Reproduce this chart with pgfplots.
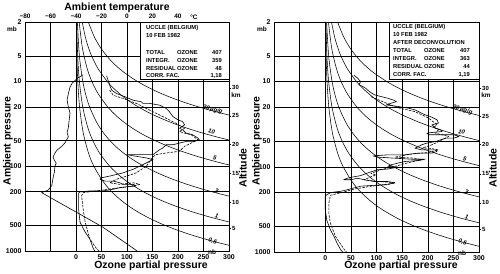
\documentclass[border=0pt]{standalone}
\usepackage{fontspec}
\setmainfont{Liberation Sans}
\usepackage{pgfplots}
\pgfplotsset{compat=1.18}
\tikzset{
  myMr/.style={black, line width=0.55pt, smooth, mark=none},
  myProf/.style={black, line width=0.6pt, line join=round, mark=none},
  myDprof/.style={black, line width=0.6pt, line join=round, mark=none, dash pattern=on 2.5pt off 1.2pt},
  myLab/.style={font=\fontsize{6}{6}\selectfont\bfseries\itshape, rotate=-15, inner sep=0.5pt},
}
\newcommand{\mixcurves}{%
  \addplot[myMr] coordinates {(24,2) (36,3) (48,4) (60,5) (72,6) (84,7) (96,8) (120,10) (144,12) (168,14) (192,16) (216,18) (240,20) (264,22) (300,25)};
  \addplot[myMr] coordinates {(12.2,2) (18.3,3) (24.4,4) (30.5,5) (42.7,7) (61,10) (73.2,12) (91.5,15) (109.8,18) (128.1,21) (152.5,25) (183,30) (213.5,35) (244,40) (274.5,45) (300,49.2)};
  \addplot[myMr] coordinates {(6.2,2) (12.4,4) (21.7,7) (31,10) (43.4,14) (62,20) (77.5,25) (93,30) (111.6,36) (130.2,42) (155,50) (186,60) (217,70) (248,80) (279,90) (300,96.8)};
  \addplot[myMr] coordinates {(2.66,2) (6.65,5) (13.3,10) (19.95,15) (26.6,20) (39.9,30) (53.2,40) (66.5,50) (79.8,60) (93.1,70) (113.05,85) (133,100) (159.6,120) (186.2,140) (212.8,160) (239.4,180) (266,200) (300,225.6)};
  \addplot[myMr] coordinates {(1.32,2) (3.3,5) (6.6,10) (13.2,20) (23.1,35) (33,50) (46.2,70) (66,100) (85.8,130) (105.6,160) (132,200) (158.4,240) (184.8,280) (217.8,330) (250.8,380) (277.2,420) (300,454.5)};
  \addplot[myMr] coordinates {(0.7,2) (1.75,5) (3.5,10) (7,20) (14,40) (24.5,70) (35,100) (52.5,150) (70,200) (91,260) (112,320) (140,400) (168,480) (196,560) (227.5,650) (262.5,750) (300,857)};
  \node[myLab] at (axis cs:268,21.5) {20\,µg/g};
  \node[myLab] at (axis cs:266,39) {10};
  \node[myLab] at (axis cs:272,80) {5};
  \node[myLab] at (axis cs:276,196) {2};
  \node[myLab] at (axis cs:276,390) {1};
  \node[myLab] at (axis cs:268,770) {0,5};
}
\begin{document}
\begin{tikzpicture}
\path[use as bounding box] (0,0) rectangle (500bp,274bp);
% ---------------- left panel ----------------
\begin{axis}[scale only axis, at={(25bp,23bp)}, anchor=south west, width=204bp, height=229bp,
  ymode=log, y dir=reverse, ymin=2, ymax=1000, xmin=-100, xmax=300,
  axis line style={line width=0.9pt},
  xtick={-50,0,50,100,150,200,250,300}, xticklabels={,0,50,100,150,200,250,300},
  ytick={2,5,10,20,50,100,200,500,1000}, yticklabels={2,5,10,20,50,100,200,500,1000},
  grid=major, major grid style={black, line width=0.5pt}, major tick length=0pt,
  ticklabel style={font=\fontsize{7}{8}\selectfont\bfseries}]
\mixcurves
% ozone, solid
\addplot[myProf] coordinates {(60,8.6) (66,11.1) (70,12.7) (79,13.9) (96,15.2) (112,16.7) (128,17.4) (131,18.2) (144,18.2) (164,19.1) (177,20.9) (183,22.8) (190,26.0) (200,28.5) (209,29.8) (213,32.6) (203,35.7) (209,37.3) (216,40.8) (229,42.7) (239,46.6) (242,48.8) (232,51.1) (216,51.1) (190,55.9) (177,55.9) (170,61.2) (164,64.0) (151,73.1) (99,73.1) (118,76.5) (138,80.0) (151,83.6) (138,91.5) (125,100) (112,109) (92,120) (66,131) (50,137) (47,143) (57,150) (73,150) (86,157) (92,164) (112,164) (118,171) (105,174) (86,179) (73,187) (53,196) (27,196) (8,201) (5,208) (5,320) (8,459) (18,600) (27,719) (34,934) (37,1000)};
% ozone, dashed
\addplot[myDprof] coordinates {(66,12.7) (73,14.6) (92,15.9) (118,18.2) (144,21.8) (170,26.0) (196,31.2) (213,35.7) (203,39.0) (213,40.8) (226,42.7) (239,48.8) (213,58.4) (203,66.8) (177,69.9) (157,73.1) (151,77.8) (138,100) (118,120) (99,131) (79,143) (66,157) (86,164) (112,157) (125,164) (112,171) (73,184) (40,196) (14,205) (11,224) (14,320) (18,459) (27,719) (40,934) (45,1000)};
\end{axis}
% temperature axis (top) with temperature profile
\begin{axis}[scale only axis, at={(25bp,23bp)}, anchor=south west, width=204bp, height=229bp,
  ymode=log, y dir=reverse, ymin=2, ymax=1000,
  xmin=-80, xmax=80, axis x line*=top, hide y axis,
  xtick={-80,-60,-40,-20,0,20,40}, xticklabels={−80,−60,−40,−20,0,20,40},
  major tick length=0pt, axis line style={line width=0.9pt},
  ticklabel style={font=\fontsize{6.5}{7}\selectfont\bfseries}]
\addplot[myProf] coordinates {(8,1000) (-19,523) (-67,205) (-62,192) (-59,170) (-58.5,152) (-58,138) (-57,118) (-56.5,100) (-55.5,92) (-57,85) (-58,78) (-56.5,70) (-55,65) (-51,58) (-48.6,53) (-46,45) (-47,40) (-46,35) (-45.5,30) (-44.7,23.7) (-46,20) (-47,16.6) (-46,14) (-44.7,11.7) (-43,10.5) (-38.4,9.1) (-34.5,8.4)};
\end{axis}
\begin{axis}[scale only axis, at={(25bp,23bp)}, anchor=south west, width=204bp, height=229bp,
  ymode=log, y dir=reverse, ymin=2, ymax=1000, xmin=0, xmax=1,
  hide x axis, axis y line*=right, axis line style={line width=0.9pt},
  ytick={11.97,25.5,55,121,265,540}, yticklabels={30,25,20,15,10,5},
  tick align=outside, major tick length=2pt, ytick style={black, line width=0.6pt},
  yticklabel style={font=\fontsize{6}{7}\selectfont\bfseries, inner sep=1pt}]
\end{axis}
% ---------------- right panel ----------------
\begin{axis}[scale only axis, at={(274bp,22bp)}, anchor=south west, width=205bp, height=230bp,
  ymode=log, y dir=reverse, ymin=2, ymax=1000, xmin=-100, xmax=300,
  axis line style={line width=0.9pt},
  xtick={-50,0,50,100,150,200,250,300}, xticklabels={,0,50,100,150,200,250,300},
  ytick={2,5,10,20,50,100,200,500,1000}, yticklabels={2,5,10,20,50,100,200,500,1000},
  grid=major, major grid style={black, line width=0.5pt}, major tick length=0pt,
  ticklabel style={font=\fontsize{7}{8}\selectfont\bfseries}]
\mixcurves
\addplot[myProf] coordinates {(56,8.4) (63,9.1) (69,10) (66,10.9) (73,11.4) (79,12.0) (86,13.1) (96,14.3) (109,15.0) (122,15.7) (132,16.4) (139,17.2) (129,17.9) (119,18.8) (142,19.6) (162,20.5) (175,21.5) (182,22.5) (188,23.5) (195,24.6) (205,25.7) (218,28.1) (221,30.7) (208,32.2) (215,35.2) (225,36.8) (228,38.5) (208,39.6) (198,40.3) (202,42.1) (218,42.1) (238,42.1) (251,42.1) (261,44.1) (251,46.1) (235,46.1) (225,48.3) (215,50.5) (198,52.8) (188,55.3) (182,57.8) (175,60.5) (188,63.3) (215,63.3) (218,66.2) (208,69.2) (182,69.2) (155,72.4) (122,72.4) (93,74.5) (102,77.0) (136,79.3) (169,81.5) (195,81.5) (182,84.4) (155,86.7) (142,90.5) (129,94.5) (122,98.9) (142,100.8) (122,106.3) (102,108.2) (83,118) (69,127) (56,131) (43,136) (36,142) (50,142) (63,136) (76,142) (96,149) (122,149) (136,155) (116,162) (89,166) (69,169) (56,177) (43,186) (30,194) (17,198) (10,202) (3,213) (0,222) (0,318) (3,424) (10,548) (17,657) (23,786) (30,940) (34,1000)};
\addplot[myDprof] coordinates {(89,15.0) (114,17.4) (142,20.3) (175,22.5) (202,26.9) (218,32.2) (212,34.3) (221,36.8) (215,40.3) (241,44.1) (228,48.3) (208,55.3) (188,60.5) (202,60.5) (221,63.3) (202,67.9) (169,70.5) (136,77.0) (175,79.3) (188,82.8) (162,89.5) (136,98.9) (109,108) (89,120) (99,124) (83,136) (76,142) (102,149) (136,153) (122,162) (89,169) (56,183) (30,202) (10,216) (7,268) (7,356) (10,459) (20,657) (33,860) (40,990) (42,1000)};
\end{axis}
\begin{axis}[scale only axis, at={(274bp,22bp)}, anchor=south west, width=205bp, height=230bp,
  ymode=log, y dir=reverse, ymin=2, ymax=1000, xmin=0, xmax=1,
  hide x axis, axis y line*=right, axis line style={line width=0.9pt},
  ytick={11.97,25.5,55,121,265,540}, yticklabels={30,25,20,15,10,5},
  tick align=outside, major tick length=2pt, ytick style={black, line width=0.6pt},
  yticklabel style={font=\fontsize{6}{7}\selectfont\bfseries, inner sep=1pt}]
\end{axis}
% ---------------- texts and boxes ----------------
\begin{scope}[yshift=274bp, x=1bp, y=-1bp]
\draw[line width=0.8pt, fill=white] (140,22) rectangle (229,79);
\draw[line width=0.8pt, fill=white] (389,22) rectangle (479,79);
\begin{scope}[every node/.style={font=\fontsize{5.8}{6}\selectfont\bfseries, inner sep=0pt}]
\node[anchor=west] at (146,28) {UCCLE (BELGIUM)};
\node[anchor=west] at (146,36) {10 FEB 1982};
\node[anchor=west] at (146,53) {TOTAL}; \node[anchor=west] at (177,53) {OZONE}; \node[anchor=east] at (222,53) {407};
\node[anchor=west] at (146,61) {INTEGR.}; \node[anchor=west] at (177,61) {OZONE}; \node[anchor=east] at (222,61) {359};
\node[anchor=west] at (146,69) {RESIDUAL}; \node[anchor=west] at (177,69) {OZONE}; \node[anchor=east] at (222,69) {48};
\node[anchor=west] at (146,76) {CORR. FAC.}; \node[anchor=east] at (222,76) {1,18};
\node[anchor=west] at (393,27) {UCCLE (BELGIUM)};
\node[anchor=west] at (393,35) {10 FEB 1982};
\node[anchor=west] at (393,43) {AFTER DECONVOLUTION};
\node[anchor=west] at (393,51) {TOTAL}; \node[anchor=west] at (424,51) {OZONE}; \node[anchor=east] at (470,51) {407};
\node[anchor=west] at (393,59) {INTEGR.}; \node[anchor=west] at (424,59) {OZONE}; \node[anchor=east] at (470,59) {363};
\node[anchor=west] at (393,67) {RESIDUAL}; \node[anchor=west] at (424,67) {OZONE}; \node[anchor=east] at (470,67) {44};
\node[anchor=west] at (393,75) {CORR. FAC.}; \node[anchor=east] at (470,75) {1,19};
\end{scope}
\begin{scope}[every node/.style={font=\fontsize{6.5}{7}\selectfont\bfseries, inner sep=0pt}]
\node at (12,29) {mb}; \node at (262,29) {mb};
\node at (194,17) {°C};
\node at (212,252) {nb}; \node at (462,253) {nb};
\node at (236,95) {km}; \node at (486,95) {km};
\end{scope}
\begin{scope}[every node/.style={font=\fontsize{10.5}{12}\selectfont\bfseries, inner sep=0pt}]
\node at (117,8) {Ambient temperature};
\node[rotate=90] at (8,141) {Ambient pressure};
\node[rotate=90] at (257,141) {Ambient pressure};
\node[rotate=90] at (243,168) {Altitude};
\node[rotate=90] at (493,168) {Altitude};
\node at (151,266) {Ozone partial pressure};
\node at (401,266) {Ozone partial pressure};
\end{scope}
\end{scope}
\end{tikzpicture}
\end{document}
